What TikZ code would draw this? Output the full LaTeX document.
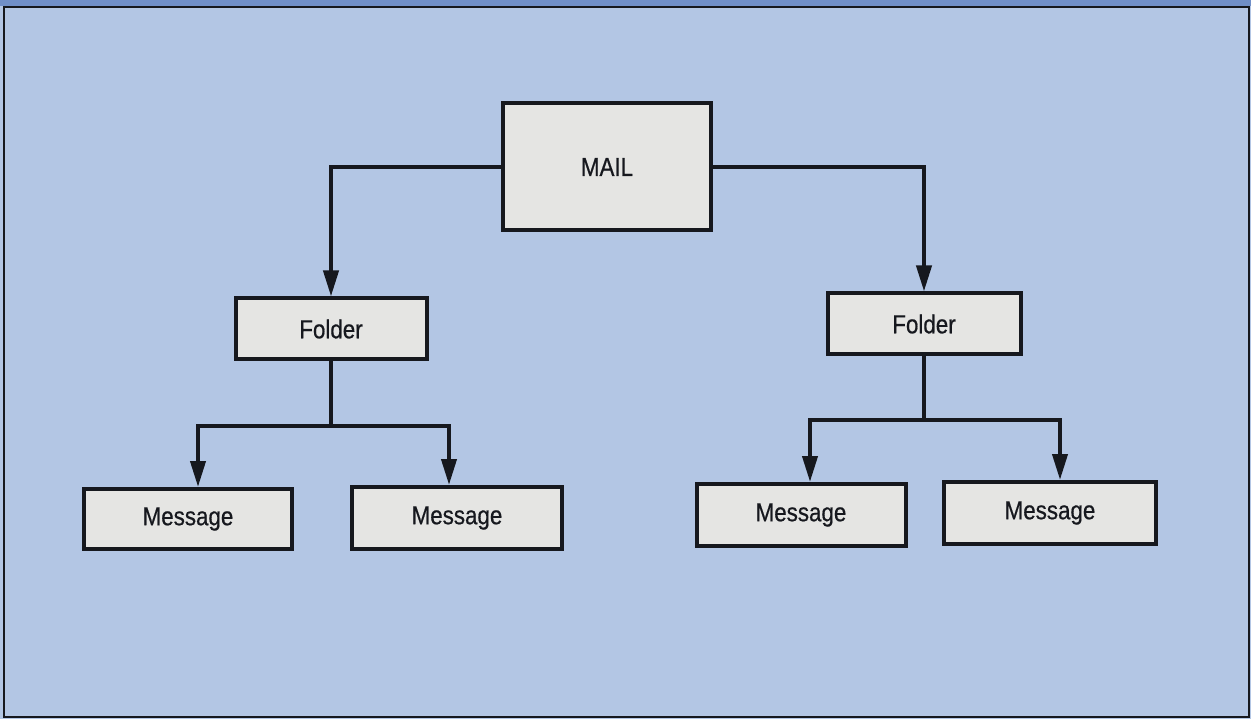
\documentclass[tikz,border=0pt]{standalone}
\usepackage{fontspec}
\setmainfont[FakeStretch=0.86,FakeBold=0.6]{Liberation Sans}
\usetikzlibrary{arrows.meta,positioning,calc}
\definecolor{paper}{RGB}{179,198,228}
\definecolor{band}{RGB}{112,143,200}
\definecolor{ink}{RGB}{22,24,30}
\definecolor{boxfill}{RGB}{229,229,227}

\tikzset{
  treebox/.style={draw=ink,fill=boxfill,line width=4pt,inner sep=0pt,
    font=\fontsize{26}{30}\selectfont,text=ink},
  link/.style={draw=ink,line width=4pt},
  arr/.style={link,-{Triangle[length=26pt,width=15pt]}}
}

\begin{document}
\begin{tikzpicture}[x=1pt,y=-1pt]
  % page and frame
  \fill[paper] (0,0) rectangle (1251,719);
  \fill[band] (0,0) rectangle (1251,6);
  \draw[ink,line width=2pt] (4,7) rectangle (1249,717);

  % boxes
  \node[treebox,minimum width=208pt,minimum height=127pt] (mail) at (607,167) {MAIL};
  \node[treebox,minimum width=191pt,minimum height=61pt] (lfold) at (331,329) {Folder};
  \node[treebox,minimum width=193pt,minimum height=61pt] (rfold) at (924,324) {Folder};
  \node[treebox,minimum width=208pt,minimum height=60pt] (lmsga) at (188,519) {Message};
  \node[treebox,minimum width=210pt,minimum height=62pt] (lmsgb) at (457,518) {Message};
  \node[treebox,minimum width=209pt,minimum height=62pt] (rmsga) at (801,515) {Message};
  \node[treebox,minimum width=212pt,minimum height=62pt] (rmsgb) at (1050,513) {Message};

  % connectors
  \draw[arr] (mail.west) -| (lfold.north);
  \draw[arr] (mail.east) -| (rfold.north);

  \coordinate (lbar) at ($(lfold.south)+(0,64)$);
  \coordinate (rbar) at ($(rfold.south)+(0,63)$);
  \draw[link] (lfold.south) -- (lbar);
  \draw[arr] (lbar) -| ([xshift=10pt]lmsga.north);
  \draw[arr] (lbar) -| ([xshift=-8pt]lmsgb.north);
  \draw[link] (rfold.south) -- (rbar);
  \draw[arr] (rbar) -| ([xshift=9pt]rmsga.north);
  \draw[arr] (rbar) -| ([xshift=10pt]rmsgb.north);
\end{tikzpicture}
\end{document}
